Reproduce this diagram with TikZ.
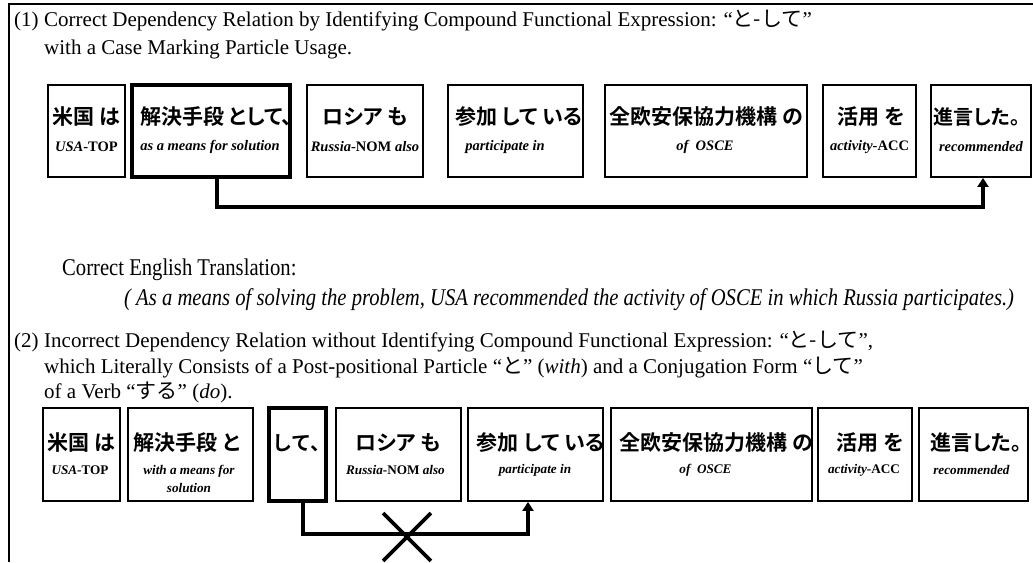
\documentclass[tikz,border=0pt]{standalone}
\usepackage{fontspec}
\setmainfont{Liberation Serif}
\newfontfamily\jp{Noto Sans CJK JP}[BoldFont={Noto Sans CJK JP Bold}]
\newfontfamily\jpp{Noto Sans CJK JP}[BoldFont={Noto Sans CJK JP Bold},RawFeature={+palt}]
\usetikzlibrary{arrows.meta,shapes.misc}
\begin{document}
\begin{tikzpicture}[x=1pt,y=-1pt,
  box/.style={draw, line width=1.9pt, rectangle, inner sep=0pt, minimum height=92pt},
  thickbox/.style={box, line width=4.8pt},
  jt/.style={font=\jpp\bfseries\fontsize{21}{21}\selectfont, inner sep=0pt},
  gl/.style={font=\bfseries\fontsize{14.5}{17}\selectfont, inner sep=0pt, align=center},
  glb/.style={font=\bfseries\fontsize{13.2}{17}\selectfont, inner sep=0pt, align=center},
  hd/.style={font=\fontsize{21}{25}\selectfont, inner sep=0pt, anchor=base west},
  tl/.style={font=\fontsize{24}{28}\selectfont, inner sep=0pt, anchor=base west},
  conn/.style={line width=4.2pt, line join=miter, -{Triangle[width=11pt,length=9pt]}},
  frame/.style={line width=1.3pt}]
\useasboundingbox (0,0) rectangle (1033,562);
\draw[frame] (9,562) -- (9,4) -- (1033,4);
% ---------- part 1 header
\node[hd] (n1) at (14,27) {(1)};
\node[hd] (h1a) at (44,27) {Correct Dependency Relation by Identifying Compound Functional Expression: “{\jp と-して}”};
\node[hd] (h1b) at (44,54) {with a Case Marking Particle Usage.};
% ---------- part 1 texts
\node[jt] (t1) at (86.5,117) {米国 は};
\node[jt, anchor=west] (t2) at (140,117) {解決手段 として、};
\node[jt] (t3) at (365,117) {ロシア も};
\node[jt] (t4) at (519,117) {参加 して いる};
\node[jt] (t5) at (706,117) {全欧安保協力機構 の};
\node[jt] (t6) at (871,117) {活用 を};
\node[jt, font=\jpp\bfseries\fontsize{20}{20}\selectfont] (t7) at (977,117) {進言した。};
\node[gl] (g1) at (86.5,147) {\textit{USA}-TOP};
\node[gl] (g2) at (210,147) {\textit{as a means for solution}};
\node[gl] (g3) at (365,147) {\textit{Russia}-NOM \textit{also}};
\node[gl] (g4) at (505,147) {\textit{participate in}};
\node[gl] (g5) at (705,147) {\textit{of\enspace OSCE}};
\node[gl] (g6) at (869.5,147) {\textit{activity}-ACC};
\node[gl] (g7) at (981,147) {\textit{recommended}};
% ---------- part 1 boxes
\node[box, minimum width=77pt] (a1) at (86.5,131) {};
\node[thickbox, minimum width=158pt] (a2) at (211,131) {};
\node[box, minimum width=116pt] (a3) at (365,131) {};
\node[box, minimum width=135pt] (a4) at (515.5,131) {};
\node[box, minimum width=202pt] (a5) at (706,131) {};
\node[box, minimum width=93pt] (a6) at (869.5,131) {};
\node[box, minimum width=100pt] (a7) at (981,131) {};
\coordinate (k1) at (600,207);
\draw[conn] ([xshift=6pt]a2.south) |- (k1) -| ([xshift=2pt]a7.south);
% ---------- translation
\node[tl] (tr) at (62,275) {\scalebox{0.86}[1]{Correct English Translation:}};
\node[tl, font=\itshape\fontsize{24}{28}\selectfont] (tri) at (124,305) {\scalebox{0.86}[1]{( As a means of solving the problem, USA recommended the activity of OSCE in which Russia participates.)}};
% ---------- part 2 header
\node[hd] (n2) at (14,347) {(2)};
\node[hd] (h2a) at (44,347) {Incorrect Dependency Relation without Identifying Compound Functional Expression: “{\jp と-して}”,};
\node[hd] (h2b) at (44,373) {which Literally Consists of a Post-positional Particle “{\jp と}” (\textit{with}) and a Conjugation Form “{\jp して}”};
\node[hd] (h2c) at (44,398) {of a Verb “{\jp する}” (\textit{do}).};
% ---------- part 2 texts
\node[jt] (u1) at (81.5,443) {米国 は};
\node[jt] (u2) at (187,443) {解決手段 と};
\node[jt, font=\jp\bfseries\fontsize{20}{20}\selectfont, anchor=west] (u3) at (272,443) {して、};
\node[jt] (u4) at (398,443) {ロシア も};
\node[jt] (u5) at (540.5,443) {参加 して いる};
\node[jt] (u6) at (716,443) {全欧安保協力機構 の};
\node[jt] (u7) at (870,443) {活用 を};
\node[jt] (u8) at (976,443) {進言した。};
\node[glb] (v1) at (80,470) {\textit{USA}-TOP};
\node[glb] (v2) at (189,479) {\textit{with a means for}\\[1pt]\textit{solution}};
\node[glb] (v4) at (395.5,470) {\textit{Russia}-NOM \textit{also}};
\node[glb] (v5) at (535,470) {\textit{participate in}};
\node[glb] (v6) at (705.5,470) {\textit{of\enspace OSCE}};
\node[glb] (v7) at (864,470) {\textit{activity}-ACC};
\node[glb] (v8) at (971.5,470) {\textit{recommended}};
% ---------- part 2 boxes
\node[box, minimum width=77pt, minimum height=93pt] (b1) at (81.5,454.5) {};
\node[box, minimum width=125pt, minimum height=93pt] (b2) at (190.5,454.5) {};
\node[thickbox, minimum width=57pt, minimum height=93pt] (b3) at (297.5,454.5) {};
\node[box, minimum width=125pt, minimum height=93pt] (b4) at (398.5,454.5) {};
\node[box, minimum width=135pt, minimum height=93pt] (b5) at (535.5,454.5) {};
\node[box, minimum width=201pt, minimum height=93pt] (b6) at (711.5,454.5) {};
\node[box, minimum width=94pt, minimum height=93pt] (b7) at (865,454.5) {};
\node[box, minimum width=109pt, minimum height=93pt] (b8) at (973.5,454.5) {};
\coordinate (k2) at (400,534);
\draw[conn] ([xshift=5.5pt]b3.south) |- (k2) -| ([xshift=-7.5pt]b5.south);
\node[cross out, draw, line width=3.8pt, minimum size=44pt, inner sep=0pt] (xm) at (407,537) {};
\end{tikzpicture}
\end{document}
